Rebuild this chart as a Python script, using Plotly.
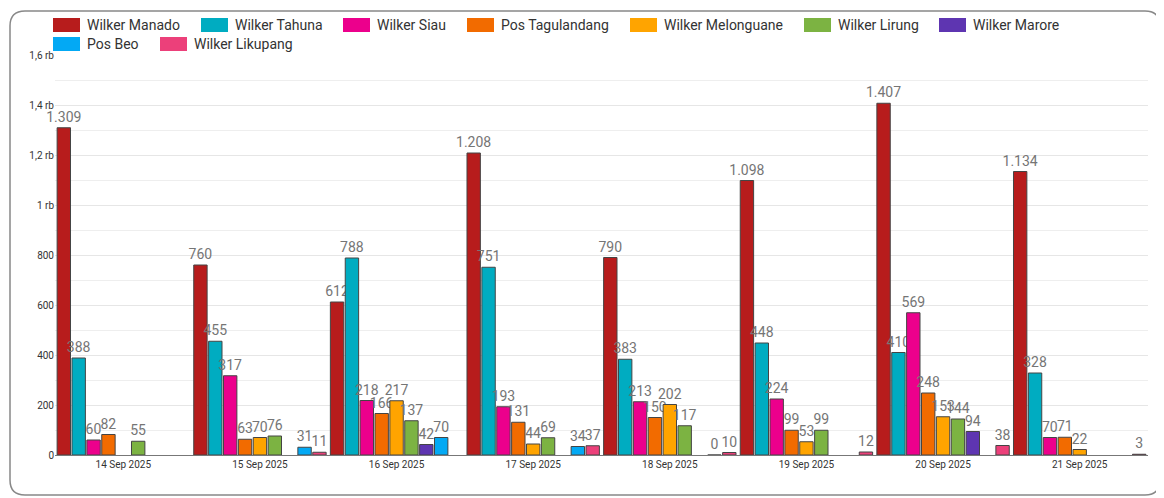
import plotly.graph_objects as go

dates = ["14 Sep 2025", "15 Sep 2025", "16 Sep 2025", "17 Sep 2025",
         "18 Sep 2025", "19 Sep 2025", "20 Sep 2025", "21 Sep 2025"]

wilker_manado = [1309, 760, 612, 1208, 790, 1098, 1407, 1134]
wilker_tahuna = [388, 455, 788, 751, 383, 448, 410, 328]
wilker_siau = [60, 317, 218, 193, 213, 224, 569, 70]
pos_tagulandang = [82, 63, 166, 131, 150, 99, 248, 71]
wilker_melonguane = [None, 70, 217, 44, 202, 53, 153, 22]
wilker_lirung = [55, 76, 137, 69, 117, 99, 144, None]
wilker_marore = [None, None, 42, None, None, None, 94, None]
pos_beo = [None, 31, 70, 34, 0, None, None, None]
wilker_likupang = [None, 11, None, 37, 10, 12, 38, 3]

series = [
    ("Wilker Manado", wilker_manado, "#b71c1c"),
    ("Wilker Tahuna", wilker_tahuna, "#00acc1"),
    ("Wilker Siau", wilker_siau, "#ec008c"),
    ("Pos Tagulandang", pos_tagulandang, "#f26b00"),
    ("Wilker Melonguane", wilker_melonguane, "#ffa400"),
    ("Wilker Lirung", wilker_lirung, "#7cb342"),
    ("Wilker Marore", wilker_marore, "#5e35b1"),
    ("Pos Beo", pos_beo, "#03a9f4"),
    ("Wilker Likupang", wilker_likupang, "#ec407a"),
]

y_ticks = [0, 200, 400, 600, 800, 1000, 1200, 1400, 1600]
y_tick_labels = ["0", "200", "400", "600", "800", "1 rb", "1,2 rb", "1,4 rb", "1,6 rb"]

# the page body has an 8px margin, so the figure is a bit smaller than the window
OFF = 8
W, H = 1164 - OFF, 498 - OFF
L, R, T, B = 47, 16, 47, 43
PW, PH = W - L - R, H - T - B


def px(x):
    # screen pixel -> paper x
    return (x - OFF - L) / PW


def py(y):
    # screen pixel -> paper y
    return (H - B - (y - OFF)) / PH


# legend layout: (swatch left x, row centre y) in screen pixels
legend_pos = [(53, 25), (201, 25), (343, 25), (467, 25), (630, 25),
              (804, 25), (939, 25), (53, 44), (160, 44)]

fig = go.Figure()

for name, values, color in series:
    fig.add_trace(go.Bar(
        name=name,
        x=dates,
        y=values,
        texttemplate="%{y:,}",
        textposition="outside",
        constraintext="none",
        cliponaxis=False,
        textfont=dict(size=14, color="#757575"),
        marker=dict(color=color, line=dict(color="#444444", width=1)),
    ))

shapes = []
annotations = []

# custom legend (wide swatches like the original)
for (name, _, color), (lx, ly) in zip(series, legend_pos):
    shapes.append(dict(
        type="rect", xref="paper", yref="paper",
        x0=px(lx), x1=px(lx + 27), y0=py(ly - 7), y1=py(ly + 7),
        fillcolor=color, line=dict(width=0),
    ))
    annotations.append(dict(
        text=name, xref="paper", yref="paper",
        x=px(lx + 32), y=py(ly), xanchor="left", yanchor="middle",
        showarrow=False, font=dict(size=14, color="#333333"),
    ))

# rounded card frame
x0, x1, y0, y1, r = 10, 1160, 11, 495, 15
frame = (f"M {px(x0)},{py(y0 + r)} Q {px(x0)},{py(y0)} {px(x0 + r)},{py(y0)} "
         f"L {px(x1 - r)},{py(y0)} Q {px(x1)},{py(y0)} {px(x1)},{py(y0 + r)} "
         f"L {px(x1)},{py(y1 - r)} Q {px(x1)},{py(y1)} {px(x1 - r)},{py(y1)} "
         f"L {px(x0 + r)},{py(y1)} Q {px(x0)},{py(y1)} {px(x0)},{py(y1 - r)} Z")
shapes.append(dict(
    type="path", xref="paper", yref="paper", layer="below",
    path=frame, line=dict(color="#888888", width=1.5),
))

fig.update_layout(
    width=W,
    height=H,
    separators=",.",
    barmode="group",
    bargap=0.02,
    bargroupgap=0.1,
    showlegend=False,
    font=dict(family="Roboto", color="#333333"),
    paper_bgcolor="white",
    plot_bgcolor="white",
    margin=dict(l=L, r=R, t=T, b=B, autoexpand=False),
    xaxis=dict(
        tickfont=dict(size=10, color="#333333"),
        showline=True, linecolor="#777777",
        ticks="",
    ),
    yaxis=dict(
        range=[0, 1600],
        tickvals=y_ticks,
        ticktext=y_tick_labels,
        tickfont=dict(size=10, color="#333333"),
        gridcolor="#e6e6e6",
        zeroline=False,
        minor=dict(dtick=100, showgrid=True, gridcolor="#eeeeee"),
    ),
    shapes=shapes,
    annotations=annotations,
)

fig.write_html("out.html")
